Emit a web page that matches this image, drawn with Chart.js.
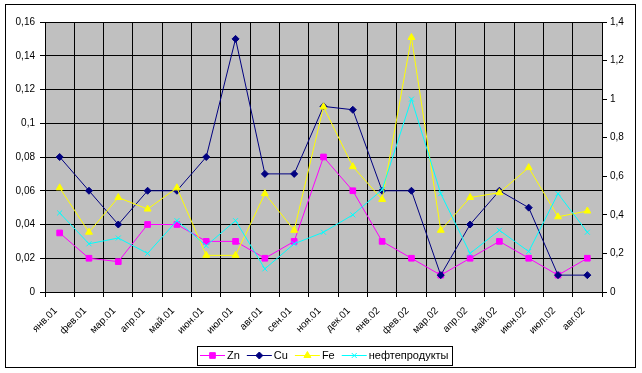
<!DOCTYPE html>
<html><head><meta charset="utf-8">
<script src="https://cdn.jsdelivr.net/npm/chart.js@4/dist/chart.umd.min.js"></script>
<style>html,body{margin:0;padding:0;background:#fff;overflow:hidden}</style>
</head><body>
<canvas id="c" width="642" height="373" style="display:block;width:642px;height:373px"></canvas>
<script>
const categories = ['янв.01','фев.01','мар.01','апр.01','май.01','июн.01','июл.01','авг.01','сен.01','ноя.01','дек.01','янв.02','фев.02','мар.02','апр.02','май.02','июн.02','июл.02','авг.02'];
const zn  = [0.035,0.02,0.018,0.04,0.04,0.03,0.03,0.02,0.03,0.08,0.06,0.03,0.02,0.01,0.02,0.03,0.02,0.01,0.02];
const cu  = [0.08,0.06,0.04,0.06,0.06,0.08,0.15,0.07,0.07,0.11,0.108,0.06,0.06,0.01,0.04,0.06,0.05,0.01,0.01];
const fe  = [0.54,0.31,0.49,0.43,0.54,0.19,0.19,0.51,0.32,0.96,0.65,0.48,1.32,0.32,0.49,0.515,0.645,0.39,0.42];
const oil = [0.41,0.25,0.28,0.20,0.37,0.24,0.37,0.12,0.25,0.31,0.40,0.53,1.0,0.51,0.20,0.32,0.21,0.51,0.31];
const seriesNames = ['Zn','Cu','Fe','нефтепродукты'];
const leftMax = 0.16, leftStep = 0.02;
const rightMax = 1.4, rightStep = 0.2;

const FONT = '"Liberation Sans", Arial, sans-serif';
const fmt = v => String(Math.round(v*1000)/1000).replace('.', ',');

function ds(label, data, color, style, r, axis, order){
  return {label, data, borderColor: color, backgroundColor: color, pointBackgroundColor: color,
    pointBorderColor: color, pointStyle: style, pointRadius: r, pointHoverRadius: r,
    pointBorderWidth: 1, borderWidth: 1, tension: 0, yAxisID: axis, order, fill: false};
}

const decor = {
  id: 'decor',
  beforeDraw(chart){
    const ctx = chart.ctx, a = chart.chartArea;
    ctx.save();
    ctx.fillStyle = '#fff'; ctx.fillRect(0,0,chart.width,chart.height);
    ctx.fillStyle = '#C0C0C0'; ctx.fillRect(a.left, a.top, a.right-a.left, a.bottom-a.top);
    ctx.restore();
  },
  afterDraw(chart){
    const ctx = chart.ctx;
    ctx.save();
    ctx.strokeStyle = '#000'; ctx.lineWidth = 1;
    ctx.strokeRect(5.5, 4.5, 630, 363);
    // legend
    ctx.font = '11px ' + FONT;
    const lineLen = 25, tGap = 2, iGap = 7, pad = 3;
    const items = chart.data.datasets.map(d => ({d, w: ctx.measureText(d.label).width}));
    let total = pad*2 + items.reduce((s,it)=>s+lineLen+tGap+it.w,0) + iGap*(items.length-1);
    const cx = 324, top = 346, bottom = 365, cy = 355.5;
    let x = Math.round(cx - total/2);
    ctx.strokeRect(x+0.5, top+0.5, Math.round(total), bottom-top);
    x += pad;
    items.forEach(it => {
      const d = it.d;
      ctx.strokeStyle = d.borderColor; ctx.fillStyle = d.backgroundColor; ctx.lineWidth = 1;
      ctx.beginPath(); ctx.moveTo(x, cy); ctx.lineTo(x+lineLen, cy); ctx.stroke();
      if (Chart.helpers && Chart.helpers.drawPoint) {
        Chart.helpers.drawPoint(ctx, {pointStyle: d.pointStyle, radius: d.pointRadius, borderWidth: 1, rotation: 0}, x+lineLen/2, cy);
      }
      ctx.fillStyle = '#000'; ctx.textBaseline = 'middle'; ctx.textAlign = 'left';
      ctx.fillText(d.label, x+lineLen+tGap, cy+0.5);
      x += lineLen + tGap + it.w + iGap;
    });
    ctx.restore();
  }
};

new Chart(document.getElementById('c'), {
  type: 'line',
  data: {
    labels: categories,
    datasets: [
      ds(seriesNames[0], zn, '#FF00FF', 'rect', 4, 'y', 3),
      ds(seriesNames[1], cu, '#000080', 'rectRot', 3.5, 'y', 2),
      ds(seriesNames[2], fe, '#FFFF00', 'triangle', 4, 'y1', 1),
      ds(seriesNames[3], oil, '#00FFFF', 'crossRot', 3.5, 'y1', 0)
    ]
  },
  options: {
    responsive: false, animation: false, devicePixelRatio: 1,
    layout: {padding: {top: 22, left: 0, right: 0, bottom: 0}},
    plugins: {legend: {display: false}, tooltip: {enabled: false}},
    scales: {
      x: {
        type: 'category', offset: true,
        grid: {offset: true, color: '#000', lineWidth: 1, tickLength: 5, drawTicks: true},
        border: {color: '#000', width: 1},
        ticks: {font: {family: FONT, size: 10}, color: '#000', minRotation: 45, maxRotation: 45, autoSkip: false, padding: 8, labelOffset: -4},
        afterFit: s => { s.height = 81; }
      },
      y: {
        position: 'left', min: 0, max: leftMax,
        ticks: {stepSize: leftStep, callback: v => fmt(v), font: {family: FONT, size: 10}, color: '#000', padding: 5},
        grid: {color: '#000', lineWidth: 1, tickLength: 5},
        border: {color: '#000', width: 1},
        afterFit: s => { s.width = 45; }
      },
      y1: {
        position: 'right', min: 0, max: rightMax,
        ticks: {stepSize: rightStep, callback: v => fmt(v), font: {family: FONT, size: 10}, color: '#000', padding: 3},
        grid: {drawOnChartArea: false, color: '#000', lineWidth: 1, tickLength: 5},
        border: {color: '#000', width: 1},
        afterFit: s => { s.width = 40; }
      }
    }
  },
  plugins: [decor]
});
</script>
</body></html>
